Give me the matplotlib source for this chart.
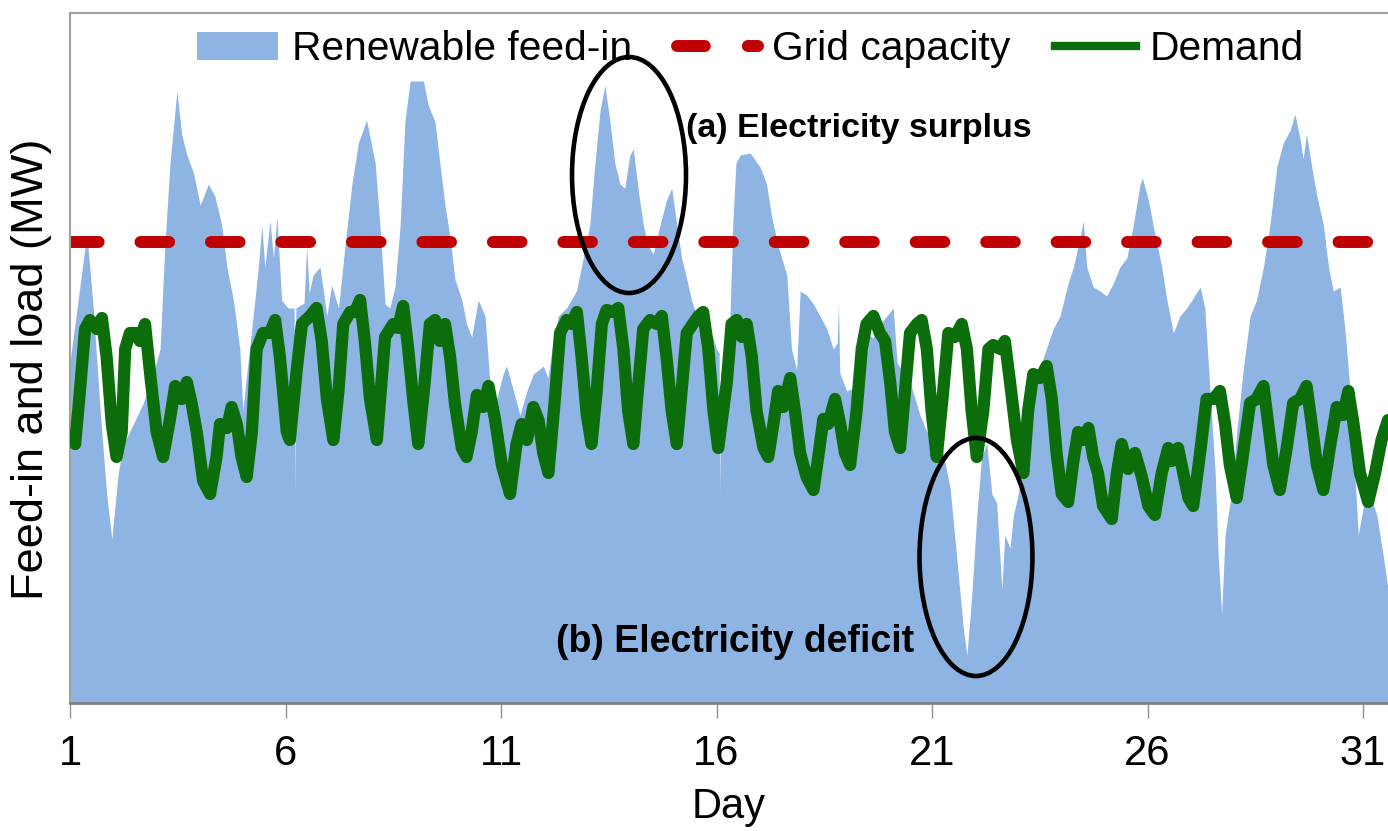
import matplotlib
matplotlib.use("Agg")
import matplotlib.pyplot as plt
from matplotlib.patches import Ellipse, Patch
from matplotlib.lines import Line2D

plt.rcParams['font.family'] = ['Liberation Sans', 'DejaVu Sans']

# ---------------- data ----------------
feed_day = [1.00, 1.39, 1.54, 1.70, 1.85, 1.97, 2.12, 2.24, 2.47, 2.70, 2.93, 3.09, 3.20, 3.32, 3.48,
            3.59, 3.71, 3.86, 4.02, 4.21, 4.36, 4.52, 4.64, 4.79, 4.94, 5.01, 5.10, 5.25, 5.37, 5.45,
            5.52, 5.64, 5.72, 5.80, 5.91, 6.06, 6.20, 6.22, 6.24, 6.43, 6.49, 6.55, 6.64, 6.80, 6.96,
            7.07, 7.23, 7.38, 7.54, 7.69, 7.88, 8.08, 8.19, 8.31, 8.42, 8.54, 8.66, 8.77, 8.89, 9.20,
            9.31, 9.47, 9.58, 9.70, 9.82, 9.93, 10.09, 10.20, 10.32, 10.47, 10.63, 10.74, 10.90, 11.05,
            11.13, 11.29, 11.44, 11.60, 11.75, 11.98, 12.09, 12.21, 12.33, 12.52, 12.75, 12.91, 13.06,
            13.18, 13.30, 13.41, 13.53, 13.64, 13.76, 13.87, 13.99, 14.07, 14.19, 14.30, 14.42, 14.53,
            14.69, 14.84, 14.96, 15.08, 15.19, 15.31, 15.42, 15.54, 15.69, 15.85, 16.00, 16.06, 16.08,
            16.10, 16.17, 16.30, 16.38, 16.45, 16.55, 16.78, 17.01, 17.16, 17.28, 17.43, 17.63, 17.74,
            17.86, 17.94, 18.09, 18.25, 18.40, 18.56, 18.71, 18.80, 18.83, 18.86, 19.02, 19.17, 19.33,
            19.49, 19.63, 19.79, 19.95, 20.10, 20.19, 20.30, 20.49, 20.72, 20.88, 21.11, 21.26, 21.42,
            21.57, 21.73, 21.81, 21.92, 22.04, 22.15, 22.27, 22.39, 22.50, 22.62, 22.69, 22.81, 22.89,
            23.00, 23.12, 23.27, 23.43, 23.58, 23.81, 23.97, 24.16, 24.28, 24.39, 24.51, 24.59, 24.74,
            24.90, 25.05, 25.21, 25.36, 25.52, 25.67, 25.83, 25.88, 26.02, 26.17, 26.33, 26.45, 26.60,
            26.75, 26.91, 27.06, 27.22, 27.33, 27.45, 27.57, 27.64, 27.72, 27.80, 27.87, 27.95, 28.07,
            28.22, 28.38, 28.53, 28.69, 28.84, 29.00, 29.15, 29.31, 29.42, 29.54, 29.61, 29.69, 29.81,
            29.93, 30.08, 30.20, 30.31, 30.47, 30.58, 30.70, 30.81, 30.89, 31.01, 31.16, 31.32, 31.47,
            31.58]
feed_mw = [341, 469, 395, 292, 209, 164, 230, 259, 279, 300, 329, 354, 457, 540, 612,
           569, 548, 531, 498, 519, 507, 478, 436, 403, 354, 292, 329, 387, 436, 478,
           436, 482, 445, 486, 403, 395, 395, 209, 395, 400, 457, 410, 428, 436, 387,
           418, 395, 457, 519, 560, 583, 540, 478, 399, 395, 416, 478, 581, 622, 622,
           598, 581, 540, 498, 465, 424, 403, 379, 366, 403, 387, 321, 304, 329,
           337, 312, 288, 312, 329, 337, 325, 362, 387, 395, 412, 445, 478,
           540, 593, 618, 581, 540, 519, 515, 548, 554, 511, 478, 457, 449,
           478, 503, 515, 478, 445, 424, 403, 387, 370, 375, 354, 350, 209,
           330, 350, 370, 480, 540, 548, 550, 536, 519, 486, 457, 428, 354,
           333, 412, 408, 399, 387, 374, 354, 360, 399, 330, 312, 315, 354,
           370, 365, 379, 387, 395, 340, 333, 321, 288, 271, 279, 250, 215,
           147, 73, 48, 106, 188, 246, 259, 209, 200, 114, 168, 155, 188,
           209, 250, 292, 321, 345, 374, 387, 420, 436, 457, 482, 436, 416,
           412, 407, 420, 436, 445, 478, 519, 525, 503, 469, 436, 403, 370,
           387, 395, 405, 416, 395, 312, 230, 147, 89, 168, 188, 209, 271,
           333, 387, 403, 436, 478, 536, 560, 573, 589, 564, 544, 569, 536,
           507, 478, 436, 412, 416, 374, 312, 230, 168, 197, 209, 188, 147,
           114]

demand_day = [1.00, 1.12, 1.23, 1.35, 1.46, 1.62, 1.74, 1.85, 1.97, 2.08, 2.20, 2.28, 2.39, 2.55, 2.62,
              2.74, 2.86, 3.01, 3.16, 3.32, 3.44, 3.59, 3.71, 3.82, 3.94, 4.09, 4.25, 4.40, 4.48, 4.64,
              4.75, 4.87, 4.98, 5.10, 5.22, 5.33, 5.48, 5.64, 5.76, 5.87, 6.03, 6.10, 6.26, 6.38, 6.57,
              6.72, 6.84, 6.96, 7.11, 7.23, 7.34, 7.50, 7.61, 7.73, 7.84, 7.96, 8.12, 8.21, 8.31, 8.50,
              8.61, 8.73, 8.84, 8.97, 9.08, 9.21, 9.35, 9.47, 9.58, 9.70, 9.82, 9.93, 10.09, 10.20, 10.32,
              10.44, 10.59, 10.71, 10.86, 11.02, 11.21, 11.36, 11.48, 11.60, 11.75, 11.87, 11.98, 12.10,
              12.25, 12.37, 12.52, 12.64, 12.76, 12.87, 12.99, 13.10, 13.22, 13.34, 13.45, 13.60, 13.72,
              13.84, 13.95, 14.07, 14.19, 14.30, 14.46, 14.61, 14.73, 14.84, 14.96, 15.08, 15.19, 15.31,
              15.45, 15.58, 15.69, 15.81, 15.93, 16.04, 16.24, 16.35, 16.47, 16.59, 16.70, 16.82, 16.93,
              17.09, 17.20, 17.32, 17.43, 17.55, 17.71, 17.82, 17.94, 18.09, 18.25, 18.36, 18.48, 18.59,
              18.75, 18.87, 18.98, 19.10, 19.25, 19.37, 19.48, 19.64, 19.79, 19.91, 20.03, 20.14, 20.26,
              20.37, 20.49, 20.65, 20.76, 20.88, 20.99, 21.11, 21.26, 21.38, 21.53, 21.69, 21.81, 21.92,
              22.04, 22.19, 22.31, 22.42, 22.58, 22.69, 22.81, 22.97, 23.12, 23.23, 23.35, 23.51, 23.66,
              23.78, 23.89, 24.01, 24.16, 24.28, 24.39, 24.51, 24.63, 24.74, 24.85, 24.97, 25.17, 25.29,
              25.40, 25.55, 25.71, 25.87, 26.02, 26.17, 26.33, 26.48, 26.56, 26.71, 26.83, 26.95, 27.06,
              27.22, 27.37, 27.53, 27.68, 27.80, 27.91, 28.07, 28.22, 28.38, 28.53, 28.69, 28.80, 28.92,
              29.07, 29.23, 29.38, 29.54, 29.69, 29.81, 29.93, 30.08, 30.23, 30.39, 30.54, 30.66, 30.78,
              30.93, 31.12, 31.28, 31.43, 31.58]
demand_mw = [267, 259, 312, 374, 383, 374, 385, 346, 279, 246, 271, 354, 370, 370, 362,
             379, 329, 271, 246, 284, 317, 304, 321, 300, 271, 222, 209, 246, 279, 275,
             296, 279, 246, 226, 271, 354, 370, 370, 383, 346, 271, 263, 333, 379, 387,
             395, 362, 304, 263, 312, 379, 391, 391, 403, 362, 304, 263, 312, 366, 379,
             375, 397, 357, 300, 259, 312, 379, 383, 362, 379, 346, 300, 255, 246, 271,
             308, 296, 317, 284, 238, 209, 259, 279, 263, 296, 283, 250, 230,
             304, 370, 383, 379, 391, 346, 288, 259, 312, 379, 393, 391, 395,
             354, 292, 259, 320, 374, 383, 379, 387, 346, 292, 259, 312, 370,
             379, 387, 391, 354, 292, 255, 321, 379, 383, 366, 379, 346, 292,
             255, 246, 279, 312, 296, 325, 292, 250, 226, 213, 246, 284, 279,
             304, 279, 250, 238, 292, 354, 379, 387, 370, 362, 321, 271, 255,
             310, 370, 379, 383, 354, 292, 246, 312, 370, 366, 379, 354, 292,
             246, 292, 354, 358, 354, 362, 321, 263, 230, 292, 329, 325, 337,
             304, 250, 209, 201, 242, 271, 263, 275, 246, 230, 197, 184, 230,
             259, 234, 250, 226, 197, 188, 230, 255, 242, 255, 230, 205, 197,
             250, 304, 304, 312, 279, 238, 205, 250, 300, 304, 317, 279, 238,
             213, 255, 300, 304, 317, 279, 238, 213, 255, 296, 288, 312, 279,
             230, 201, 230, 263, 283]

grid_capacity_mw = 461
x_ticks = [1, 6, 11, 16, 21, 26, 31]
series_labels = ['Renewable feed-in', 'Grid capacity', 'Demand']
annotation_a = '(a) Electricity surplus'
annotation_b = '(b) Electricity deficit'

# ---------------- styling ----------------
FEED_COLOR = '#8EB4E3'
GRID_COLOR = '#C00000'
DEMAND_COLOR = '#0B6E0B'
SPINE_COLOR = '#A0A0A0'
DASH = (0, (2.4, 3.5))

W, H = 1388, 831
fig = plt.figure(figsize=(W / 100, H / 100), dpi=100)
ax = fig.add_axes([70 / W, 128 / H, 1318 / W, 690 / H])

ax.fill_between(feed_day, 0, feed_mw, color=FEED_COLOR, lw=0, zorder=1)
ax.axhline(grid_capacity_mw, color=GRID_COLOR, lw=8.6, ls=DASH,
           dash_capstyle='round', zorder=2)
ax.plot(demand_day, demand_mw, color=DEMAND_COLOR, lw=8.8,
        solid_joinstyle='round', solid_capstyle='round', zorder=3)

ax.add_patch(Ellipse((13.97, 528), width=2.645, height=236, fill=False,
                     ec='black', lw=3.3, zorder=4))
ax.add_patch(Ellipse((22.02, 146), width=2.62, height=238, fill=False,
                     ec='black', lw=3.3, zorder=4))
ax.text(15.29, 575, annotation_a, fontsize=24.5, fontweight='bold',
        ha='left', va='center', zorder=5)
ax.text(12.28, 61, annotation_b, fontsize=27, fontweight='bold',
        ha='left', va='center', zorder=5)

ax.set_xlim(1, 31.58)
ax.set_ylim(0, 690)
ax.set_xticks(x_ticks)
ax.set_xticklabels([str(t) for t in x_ticks])
ax.set_yticks([])
ax.tick_params(axis='x', direction='out', length=11, width=1.0, color='#909090',
               labelsize=30, pad=11)
for side in ['left', 'top']:
    ax.spines[side].set_color(SPINE_COLOR)
    ax.spines[side].set_linewidth(1.5)
ax.spines['bottom'].set_color('#808080')
ax.spines['bottom'].set_linewidth(2.0)
ax.spines['right'].set_visible(False)

ax.set_xlabel('Day', fontsize=30, labelpad=10)
ax.set_ylabel('Feed-in and load (MW)', fontsize=32.5)
ax.yaxis.set_label_coords(-0.014, 0.483)

handles = [Patch(facecolor=FEED_COLOR, edgecolor='none'),
           Line2D([0], [0], color=GRID_COLOR, lw=8.6, ls=(0, (2.33, 3.6)), dash_capstyle='round'),
           Line2D([0], [0], color=DEMAND_COLOR, lw=6)]
ax.legend(handles, series_labels, ncol=3, loc='upper left', bbox_to_anchor=(0.0964, 0.975),
          frameon=False, fontsize=29.3, handlelength=2.0, handletextpad=0.33,
          columnspacing=1.1, borderpad=0, borderaxespad=0)

fig.savefig('out.png', dpi=100)
